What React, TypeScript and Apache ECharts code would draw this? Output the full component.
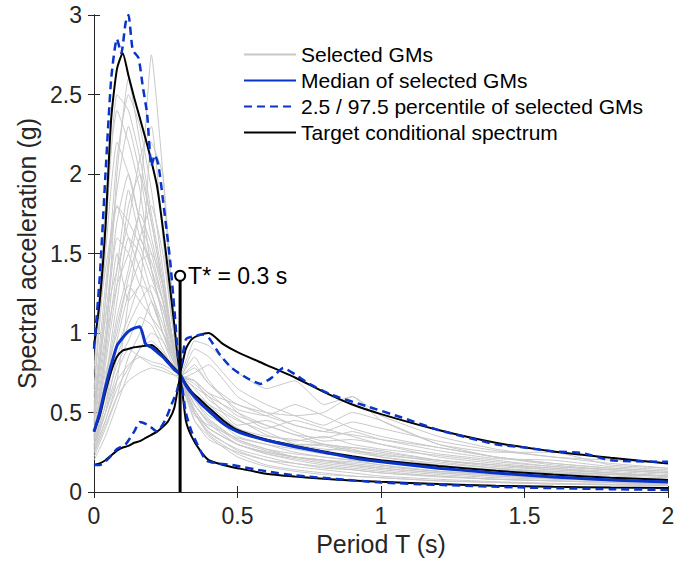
import React, { useEffect, useRef } from "react";
import * as echarts from "echarts";

// Period grids (s)
const KEY_T = [0, 0.02, 0.04, 0.06, 0.08, 0.1, 0.12, 0.14, 0.16, 0.18, 0.2, 0.22, 0.24, 0.26, 0.28, 0.3, 0.32, 0.34, 0.37, 0.4, 0.45, 0.5, 0.6, 0.7, 0.8, 0.9, 1.0, 1.2, 1.4, 1.6, 1.8, 2.0];
const TARGET_MEAN = [0.38, 0.48, 0.63, 0.76, 0.85, 0.89, 0.9, 0.91, 0.915, 0.92, 0.925, 0.9, 0.86, 0.82, 0.78, 0.74, 0.68, 0.63, 0.58, 0.53, 0.45, 0.39, 0.33, 0.29, 0.255, 0.225, 0.2, 0.163, 0.133, 0.11, 0.09, 0.075];
const TARGET_UPPER = [0.92, 1.2, 1.67, 2.35, 2.66, 2.76, 2.62, 2.48, 2.35, 2.22, 2.08, 1.92, 1.66, 1.36, 1.05, 0.75, 0.9, 0.96, 0.99, 1.0, 0.93, 0.88, 0.8, 0.72, 0.63, 0.55, 0.49, 0.39, 0.31, 0.255, 0.215, 0.18];
const TARGET_LOWER = [0.17, 0.18, 0.2, 0.23, 0.26, 0.28, 0.29, 0.31, 0.32, 0.34, 0.36, 0.38, 0.41, 0.45, 0.53, 0.72, 0.45, 0.35, 0.26, 0.2, 0.17, 0.15, 0.115, 0.097, 0.083, 0.073, 0.064, 0.05, 0.04, 0.033, 0.028, 0.025];
const MEDIAN = [0.38, 0.5, 0.66, 0.8, 0.92, 0.97, 1.01, 1.03, 1.04, 0.93, 0.91, 0.88, 0.85, 0.81, 0.77, 0.74, 0.67, 0.62, 0.56, 0.51, 0.43, 0.38, 0.325, 0.285, 0.25, 0.215, 0.19, 0.15, 0.12, 0.095, 0.075, 0.063];

const UP_T = [0, 0.02, 0.04, 0.06, 0.08, 0.095, 0.11, 0.12, 0.135, 0.155, 0.17, 0.185, 0.2, 0.212, 0.225, 0.24, 0.265, 0.28, 0.3, 0.32, 0.35, 0.38, 0.4, 0.44, 0.48, 0.53, 0.58, 0.62, 0.66, 0.7, 0.75, 0.83, 0.95, 1.07, 1.2, 1.4, 1.5, 1.6, 1.7, 1.8, 2.0];
const PCT_UPPER = [0.9, 1.35, 2.0, 2.6, 2.85, 2.76, 2.95, 3.0, 2.78, 2.73, 2.55, 2.38, 2.05, 2.12, 2.05, 1.84, 1.46, 1.15, 0.76, 0.96, 0.98, 0.99, 0.97, 0.86, 0.78, 0.72, 0.68, 0.72, 0.78, 0.74, 0.68, 0.61, 0.54, 0.47, 0.39, 0.3, 0.28, 0.255, 0.245, 0.2, 0.19];
const LO_T = [0, 0.02, 0.05, 0.08, 0.11, 0.14, 0.16, 0.19, 0.22, 0.25, 0.27, 0.29, 0.3, 0.32, 0.34, 0.36, 0.39, 0.43, 0.48, 0.6, 0.7, 0.87, 1.0, 1.2, 1.5, 1.8, 2.0];
const PCT_LOWER = [0.17, 0.17, 0.21, 0.27, 0.3, 0.38, 0.44, 0.42, 0.38, 0.46, 0.55, 0.64, 0.72, 0.5, 0.38, 0.3, 0.2, 0.18, 0.17, 0.13, 0.105, 0.078, 0.06, 0.045, 0.028, 0.018, 0.013];

// Individual selected ground motions
const GM_T = [0, 0.04, 0.08, 0.12, 0.16, 0.2, 0.24, 0.27, 0.3, 0.35, 0.4, 0.5, 0.6, 0.7, 0.8, 0.9, 1.0, 1.2, 1.4, 1.6, 1.8, 2.0];
const GM01 = [0.45, 1.2, 2.1, 2.5, 2.3, 1.9, 1.4, 1.0, 0.73, 0.5, 0.38, 0.26, 0.2, 0.16, 0.14, 0.12, 0.1, 0.08, 0.065, 0.055, 0.05, 0.045];
const GM02 = [0.3, 0.55, 0.8, 0.95, 1.1, 1.05, 0.9, 0.8, 0.72, 0.7, 0.62, 0.48, 0.42, 0.36, 0.3, 0.28, 0.25, 0.2, 0.17, 0.14, 0.12, 0.1];
const GM03 = [0.6, 1.5, 2.2, 2.0, 1.7, 1.5, 1.2, 0.95, 0.74, 0.55, 0.45, 0.33, 0.27, 0.24, 0.22, 0.2, 0.17, 0.13, 0.11, 0.09, 0.08, 0.07];
const GM04 = [0.25, 0.45, 0.7, 1.2, 1.6, 1.4, 1.1, 0.85, 0.73, 0.85, 0.7, 0.5, 0.4, 0.45, 0.4, 0.35, 0.3, 0.22, 0.18, 0.15, 0.12, 0.1];
const GM05 = [0.35, 0.8, 1.3, 1.8, 2.0, 1.7, 1.3, 1.0, 0.74, 0.6, 0.5, 0.35, 0.3, 0.25, 0.22, 0.2, 0.19, 0.15, 0.12, 0.1, 0.09, 0.08];
const GM06 = [0.5, 1.0, 1.6, 1.5, 1.3, 2.2, 2.0, 1.3, 0.72, 0.45, 0.33, 0.25, 0.2, 0.18, 0.15, 0.14, 0.12, 0.1, 0.08, 0.07, 0.06, 0.05];
const GM07 = [0.4, 0.7, 1.1, 1.4, 1.8, 2.75, 2.0, 1.2, 0.73, 0.5, 0.4, 0.3, 0.25, 0.22, 0.2, 0.19, 0.17, 0.13, 0.11, 0.09, 0.08, 0.07];
const GM08 = [0.28, 0.5, 0.75, 0.9, 0.85, 0.8, 0.78, 0.75, 0.71, 0.75, 0.8, 0.6, 0.5, 0.42, 0.38, 0.36, 0.33, 0.28, 0.22, 0.18, 0.15, 0.13];
const GM09 = [0.55, 1.3, 1.9, 2.3, 2.0, 1.6, 1.3, 1.0, 0.75, 0.5, 0.36, 0.24, 0.17, 0.14, 0.12, 0.1, 0.09, 0.07, 0.06, 0.05, 0.045, 0.04];
const GM10 = [0.22, 0.4, 0.6, 0.85, 1.0, 1.2, 1.0, 0.85, 0.74, 0.68, 0.6, 0.42, 0.45, 0.38, 0.32, 0.33, 0.3, 0.24, 0.2, 0.16, 0.14, 0.12];
const GM11 = [0.42, 0.9, 1.5, 1.2, 1.3, 1.1, 0.95, 0.85, 0.73, 0.58, 0.48, 0.38, 0.32, 0.28, 0.26, 0.28, 0.26, 0.2, 0.16, 0.14, 0.12, 0.1];
const GM12 = [0.33, 0.7, 1.2, 1.6, 1.5, 1.25, 1.05, 0.88, 0.72, 0.62, 0.55, 0.45, 0.38, 0.3, 0.27, 0.26, 0.24, 0.19, 0.15, 0.12, 0.1, 0.09];
const GM13 = [0.75, 1.8, 2.4, 2.2, 1.9, 1.4, 1.1, 0.9, 0.74, 0.52, 0.4, 0.3, 0.24, 0.2, 0.17, 0.15, 0.13, 0.1, 0.08, 0.07, 0.06, 0.05];
const GM14 = [0.26, 0.45, 0.65, 0.78, 0.9, 1.0, 0.95, 0.82, 0.72, 0.9, 0.85, 0.65, 0.55, 0.48, 0.42, 0.5, 0.45, 0.3, 0.22, 0.17, 0.14, 0.12];
const GM15 = [0.38, 0.75, 1.0, 1.35, 1.6, 1.8, 1.5, 1.1, 0.73, 0.48, 0.42, 0.34, 0.3, 0.27, 0.24, 0.22, 0.2, 0.16, 0.14, 0.13, 0.11, 0.1];
const GM16 = [0.3, 0.6, 0.9, 1.1, 1.3, 1.25, 1.0, 0.88, 0.74, 0.65, 0.55, 0.4, 0.35, 0.33, 0.3, 0.26, 0.23, 0.2, 0.17, 0.15, 0.13, 0.11];
const GM17 = [0.48, 1.1, 1.7, 2.0, 1.7, 1.4, 1.2, 0.95, 0.73, 0.58, 0.46, 0.33, 0.27, 0.22, 0.19, 0.17, 0.15, 0.12, 0.1, 0.09, 0.08, 0.07];
const GM18 = [0.2, 0.35, 0.55, 0.75, 0.9, 0.95, 0.88, 0.8, 0.73, 0.78, 0.68, 0.52, 0.48, 0.55, 0.48, 0.4, 0.35, 0.28, 0.22, 0.18, 0.15, 0.13];
const GM19 = [0.52, 1.2, 1.8, 1.7, 1.55, 1.35, 1.15, 0.92, 0.74, 0.55, 0.43, 0.3, 0.25, 0.22, 0.2, 0.18, 0.16, 0.13, 0.11, 0.1, 0.09, 0.08];
const GM20 = [0.36, 0.85, 1.4, 1.9, 1.6, 1.45, 1.2, 0.95, 0.72, 0.6, 0.52, 0.4, 0.33, 0.3, 0.29, 0.25, 0.22, 0.18, 0.15, 0.13, 0.11, 0.1];
const GM21 = [0.27, 0.5, 0.85, 1.05, 1.2, 1.3, 1.15, 0.95, 0.73, 0.7, 0.58, 0.46, 0.36, 0.32, 0.35, 0.3, 0.27, 0.23, 0.19, 0.16, 0.14, 0.12];
const GM22 = [0.65, 1.6, 2.5, 2.4, 2.1, 1.7, 1.3, 1.0, 0.74, 0.5, 0.37, 0.27, 0.22, 0.18, 0.16, 0.14, 0.12, 0.095, 0.08, 0.07, 0.06, 0.05];
const GM23 = [0.32, 0.65, 1.05, 1.3, 1.2, 1.1, 1.0, 0.9, 0.74, 0.7, 0.62, 0.55, 0.48, 0.42, 0.38, 0.44, 0.4, 0.32, 0.26, 0.22, 0.18, 0.15];
const GM24 = [0.44, 0.95, 1.3, 1.5, 1.75, 1.55, 1.25, 0.98, 0.73, 0.52, 0.4, 0.3, 0.24, 0.21, 0.18, 0.16, 0.14, 0.11, 0.09, 0.08, 0.07, 0.06];
const GM25 = [0.3, 0.5, 0.7, 0.8, 0.85, 0.82, 0.8, 0.77, 0.74, 0.95, 0.92, 0.75, 0.65, 0.7, 0.55, 0.6, 0.48, 0.35, 0.27, 0.22, 0.2, 0.18];
const GM26 = [0.24, 0.42, 0.6, 0.7, 0.75, 0.78, 0.76, 0.74, 0.73, 0.8, 0.68, 0.55, 0.5, 0.48, 0.5, 0.6, 0.45, 0.3, 0.25, 0.25, 0.17, 0.15];
const GM27 = [0.5, 1.1, 1.4, 1.7, 2.1, 2.3, 1.6, 1.1, 0.73, 0.45, 0.35, 0.22, 0.16, 0.13, 0.11, 0.1, 0.09, 0.07, 0.06, 0.05, 0.045, 0.04];
const GM28 = [0.9, 1.4, 1.8, 1.6, 1.4, 1.2, 1.0, 0.85, 0.74, 0.62, 0.5, 0.38, 0.33, 0.3, 0.3, 0.27, 0.22, 0.17, 0.14, 0.12, 0.11, 0.1];
const GM29 = [0.34, 0.9, 2.0, 2.6, 2.2, 1.75, 1.35, 1.0, 0.73, 0.55, 0.44, 0.32, 0.26, 0.22, 0.2, 0.17, 0.15, 0.12, 0.1, 0.085, 0.075, 0.065];
const GM30 = [0.29, 0.55, 0.95, 1.25, 1.45, 1.5, 1.3, 1.0, 0.74, 0.66, 0.6, 0.5, 0.42, 0.36, 0.34, 0.38, 0.33, 0.26, 0.21, 0.2, 0.16, 0.14];
const GMS = [GM01, GM02, GM03, GM04, GM05, GM06, GM07, GM08, GM09, GM10, GM11, GM12, GM13, GM14, GM15, GM16, GM17, GM18, GM19, GM20, GM21, GM22, GM23, GM24, GM25, GM26, GM27, GM28, GM29, GM30];

const T_STAR = 0.3;
const T_STAR_TOP = 1.36;
const T_STAR_LABEL = "T* = 0.3 s";

const X_TICKS = { min: 0, max: 2, interval: 0.5 };
const Y_TICKS = { min: 0, max: 3, interval: 0.5 };

const NAME_GM = "Selected GMs";
const NAME_MED = "Median of selected GMs";
const NAME_PCT = "2.5 / 97.5 percentile of selected GMs";
const NAME_TGT = "Target conditional spectrum";

const FONT = "'Liberation Sans', Arial, Helvetica, sans-serif";
const AXIS_COLOR = "#262626";
const BLUE = "#0a33c8";

const pairs = (ts: number[], vs: number[]) => ts.map((t, i) => [t, vs[i]]);

export default function App() {
  const ref = useRef<HTMLDivElement>(null);
  useEffect(() => {
    document.body.style.margin = "0";
    if (!ref.current) return;
    const chart = echarts.init(ref.current, null, { renderer: "svg" });

    const gmSeries = GMS.map((g) => ({
      name: NAME_GM,
      type: "line",
      data: pairs(GM_T, g),
      symbol: "none",
      smooth: 0.15,
      lineStyle: { color: "#c8c8c8", width: 1 },
      itemStyle: { color: "#c8c8c8" },
      z: 1,
    }));

    const keyLine = (name: string, ts: number[], vs: number[], color: string, width: number, type: any, z: number) => ({
      name,
      type: "line",
      data: pairs(ts, vs),
      symbol: "none",
      smooth: 0.2,
      lineStyle: { color, width, type },
      itemStyle: { color },
      z,
    });

    const axisCommon = {
      axisLine: { show: true, lineStyle: { color: AXIS_COLOR, width: 1 } },
      axisTick: { show: true, inside: true, length: 6, lineStyle: { color: AXIS_COLOR } },
      splitLine: { show: false },
    };

    chart.setOption({
      animation: false,
      backgroundColor: "#ffffff",
      grid: { left: 94, right: 31, top: 15, bottom: 74, containLabel: false },
      legend: {
        data: [NAME_GM, NAME_MED, NAME_PCT, NAME_TGT],
        orient: "vertical",
        left: 238,
        top: 39,
        itemWidth: 52,
        itemHeight: 14,
        itemGap: 5,
        itemStyle: { opacity: 0 },
        textStyle: { fontFamily: FONT, fontSize: 21, color: "#000" },
        selectedMode: false,
      },
      xAxis: [
        {
          type: "value",
          ...X_TICKS,
          ...axisCommon,
          name: "Period T (s)",
          nameLocation: "middle",
          nameGap: 36,
          nameTextStyle: { fontFamily: FONT, fontSize: 25, color: AXIS_COLOR },
          axisLabel: { fontFamily: FONT, fontSize: 23, color: AXIS_COLOR, margin: 12 },
        },
        {
          type: "value",
          position: "top",
          ...X_TICKS,
          ...axisCommon,
          axisLabel: { show: false },
        },
      ],
      yAxis: [
        {
          type: "value",
          ...Y_TICKS,
          ...axisCommon,
          name: "Spectral acceleration (g)",
          nameLocation: "middle",
          nameGap: 50,
          nameTextStyle: { fontFamily: FONT, fontSize: 25, color: AXIS_COLOR },
          axisLabel: { fontFamily: FONT, fontSize: 23, color: AXIS_COLOR, margin: 12 },
        },
        {
          type: "value",
          position: "right",
          ...Y_TICKS,
          ...axisCommon,
          axisLabel: { show: false },
        },
      ],
      series: [
        ...gmSeries,
        keyLine(NAME_TGT, KEY_T, TARGET_MEAN, "#000000", 2, "solid", 3),
        keyLine(NAME_TGT, KEY_T, TARGET_UPPER, "#000000", 2, "solid", 3),
        keyLine(NAME_TGT, KEY_T, TARGET_LOWER, "#000000", 2, "solid", 3),
        keyLine(NAME_MED, KEY_T, MEDIAN, BLUE, 3, "solid", 4),
        keyLine(NAME_PCT, UP_T, PCT_UPPER, BLUE, 2.5, [8, 5], 4),
        keyLine(NAME_PCT, LO_T, PCT_LOWER, BLUE, 2.5, [8, 5], 4),
        {
          name: "T*",
          type: "line",
          z: 6,
          lineStyle: { color: "#000000", width: 3 },
          itemStyle: { color: "#ffffff", borderColor: "#000000", borderWidth: 2 },
          data: [
            { value: [T_STAR, 0], symbol: "none" },
            {
              value: [T_STAR, T_STAR_TOP],
              symbol: "circle",
              symbolSize: 10,
              label: {
                show: true,
                position: "right",
                distance: 2,
                formatter: T_STAR_LABEL,
                fontFamily: FONT,
                fontSize: 23,
                color: "#000000",
              },
            },
          ],
        },
      ],
    });
    return () => chart.dispose();
  }, []);
  return <div ref={ref} style={{ width: 699, height: 566 }} />;
}
